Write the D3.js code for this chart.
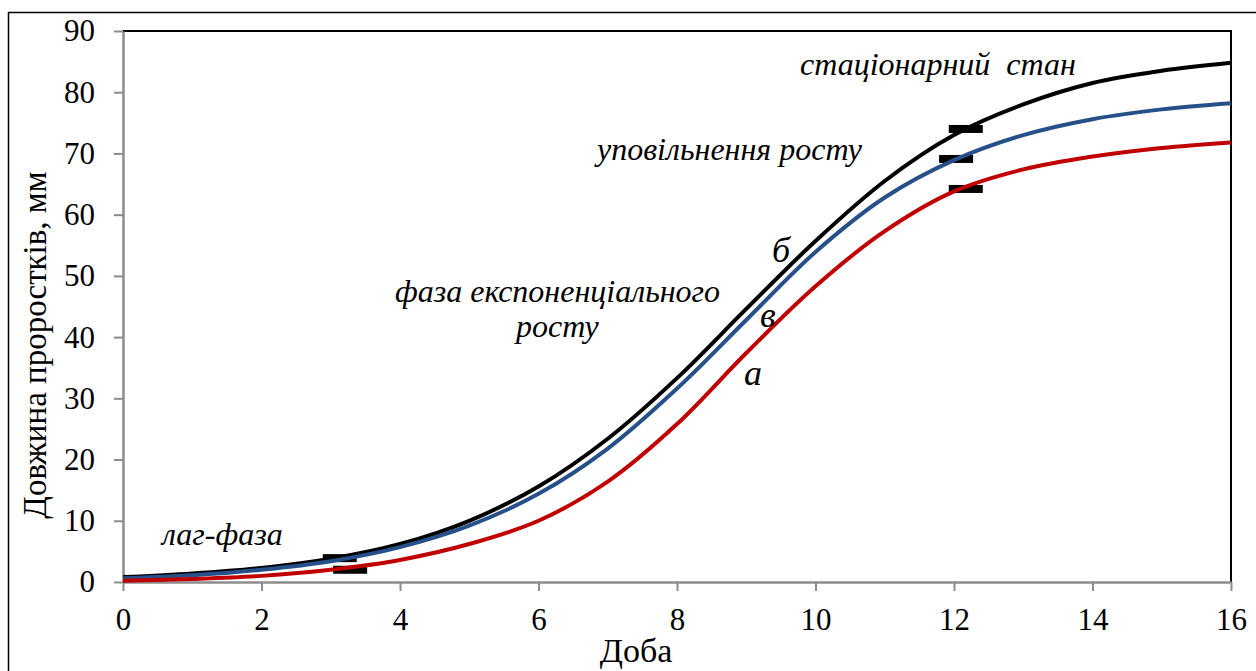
<!DOCTYPE html>
<html>
<head>
<meta charset="utf-8">
<script src="https://cdn.jsdelivr.net/npm/d3@7"></script>
<style>
  body { margin: 0; background: #fff; }
  svg { display: block; }
  text { font-family: "Liberation Serif", "Times New Roman", serif; fill: #000; }
</style>
</head>
<body>
<svg id="chart" width="1256" height="671"></svg>
<script>
// Доба (days)
const days = [0, 1, 2, 3, 4, 5, 6, 7, 8, 9, 10, 11, 12, 13, 14, 15, 16];
// Довжина проростків, мм — curve "б"
const seriesB = [0.8, 1.4, 2.3, 3.8, 6.2, 10.0, 15.6, 23.4, 33.3, 44.6, 55.7, 65.5, 73.0, 78.0, 81.5, 83.5, 84.8];
// curve "в"
const seriesV = [0.6, 1.1, 2.0, 3.4, 5.7, 9.2, 14.4, 21.8, 31.6, 42.8, 53.9, 62.8, 68.9, 73.0, 75.6, 77.2, 78.2];
// curve "а"
const seriesA = [0.2, 0.5, 1.0, 2.0, 3.6, 6.2, 10.0, 16.4, 25.8, 37.4, 48.3, 57.3, 63.8, 67.4, 69.5, 70.9, 71.8];

// phase boundary markers
const markDays = [3.13, 3.28, 12.17, 12.03, 12.17];
const markValues = [3.9, 2.0, 74.0, 69.1, 64.2];

const xTicks = [0, 2, 4, 6, 8, 10, 12, 14, 16];
const yTicks = [0, 10, 20, 30, 40, 50, 60, 70, 80, 90];

const svg = d3.select("#chart");
const plot = { left: 123, right: 1231, top: 31, bottom: 582 };

const x = d3.scaleLinear().domain([0, 16]).range([plot.left, plot.right]);
const y = d3.scaleLinear().domain([0, 90]).range([plot.bottom, plot.top]);

// outer frame
svg.append("rect")
  .attr("x", 8.5).attr("y", 12.5)
  .attr("width", 1270).attr("height", 700)
  .attr("fill", "none").attr("stroke", "#000").attr("stroke-width", 1.5);

// plot-area border (top and right)
svg.append("path")
  .attr("d", `M${plot.left},${plot.top}H${plot.right}V${plot.bottom}`)
  .attr("fill", "none").attr("stroke", "#000").attr("stroke-width", 2);

const axisColor = "#8c8c8c";
const tickFont = 31;

// x axis
const xAxis = svg.append("g")
  .attr("transform", `translate(0,${plot.bottom})`)
  .call(d3.axisBottom(x).tickValues(xTicks).tickSize(9).tickSizeOuter(0).tickPadding(17));
xAxis.select(".domain").attr("stroke", axisColor).attr("stroke-width", 2.5);
xAxis.selectAll(".tick line").attr("stroke", axisColor).attr("stroke-width", 2);
xAxis.selectAll(".tick text")
  .attr("font-family", "Liberation Serif, serif").attr("font-size", tickFont).attr("fill", "#000");

// y axis
const yAxis = svg.append("g")
  .attr("transform", `translate(${plot.left},0)`)
  .call(d3.axisLeft(y).tickValues(yTicks).tickSize(9).tickSizeOuter(0).tickPadding(19));
yAxis.select(".domain").attr("stroke", axisColor).attr("stroke-width", 2.5);
yAxis.selectAll(".tick line").attr("stroke", axisColor).attr("stroke-width", 2);
yAxis.selectAll(".tick text")
  .attr("font-family", "Liberation Serif, serif").attr("font-size", tickFont).attr("fill", "#000");

// axis titles
svg.append("text")
  .attr("x", 636).attr("y", 662)
  .attr("text-anchor", "middle")
  .attr("font-size", 34)
  .text("Доба");

svg.append("text")
  .attr("transform", "translate(46,345) rotate(-90)")
  .attr("text-anchor", "middle")
  .attr("font-size", 33)
  .text("Довжина проростків, мм");

// markers (under the curves)
const marks = markDays.map((d, i) => ({ d, v: markValues[i] }));
svg.append("g").selectAll("rect")
  .data(marks)
  .join("rect")
  .attr("x", m => x(m.d) - 17)
  .attr("y", m => y(m.v) - 4)
  .attr("width", 34)
  .attr("height", 8)
  .attr("fill", "#000");

// curves
const line = d3.line()
  .x((v, i) => x(days[i]))
  .y(v => y(v))
  .curve(d3.curveCatmullRom.alpha(0.5));

const curves = [
  { values: seriesB, color: "#000000" },
  { values: seriesV, color: "#26508a" },
  { values: seriesA, color: "#c00000" }
];
svg.append("g").selectAll("path")
  .data(curves)
  .join("path")
  .attr("d", c => line(c.values))
  .attr("fill", "none")
  .attr("stroke", c => c.color)
  .attr("stroke-width", 4)
  .attr("stroke-linecap", "butt");

// phase annotations
const notes = [
  { text: "стаціонарний  стан", px: 800, py: 75, size: 32 },
  { text: "уповільнення росту", px: 597, py: 160, size: 32 },
  { text: "фаза експоненціального", px: 395, py: 302, size: 32 },
  { text: "росту", px: 516, py: 337, size: 32 },
  { text: "лаг-фаза", px: 162, py: 545, size: 32 },
  { text: "б", px: 772, py: 262, size: 36 },
  { text: "в", px: 760, py: 327, size: 36 },
  { text: "а", px: 744, py: 385, size: 36 }
];
svg.append("g").selectAll("text")
  .data(notes)
  .join("text")
  .attr("x", n => n.px)
  .attr("y", n => n.py)
  .attr("font-style", "italic")
  .attr("font-size", n => n.size)
  .style("white-space", "pre")
  .text(n => n.text);
</script>
</body>
</html>
